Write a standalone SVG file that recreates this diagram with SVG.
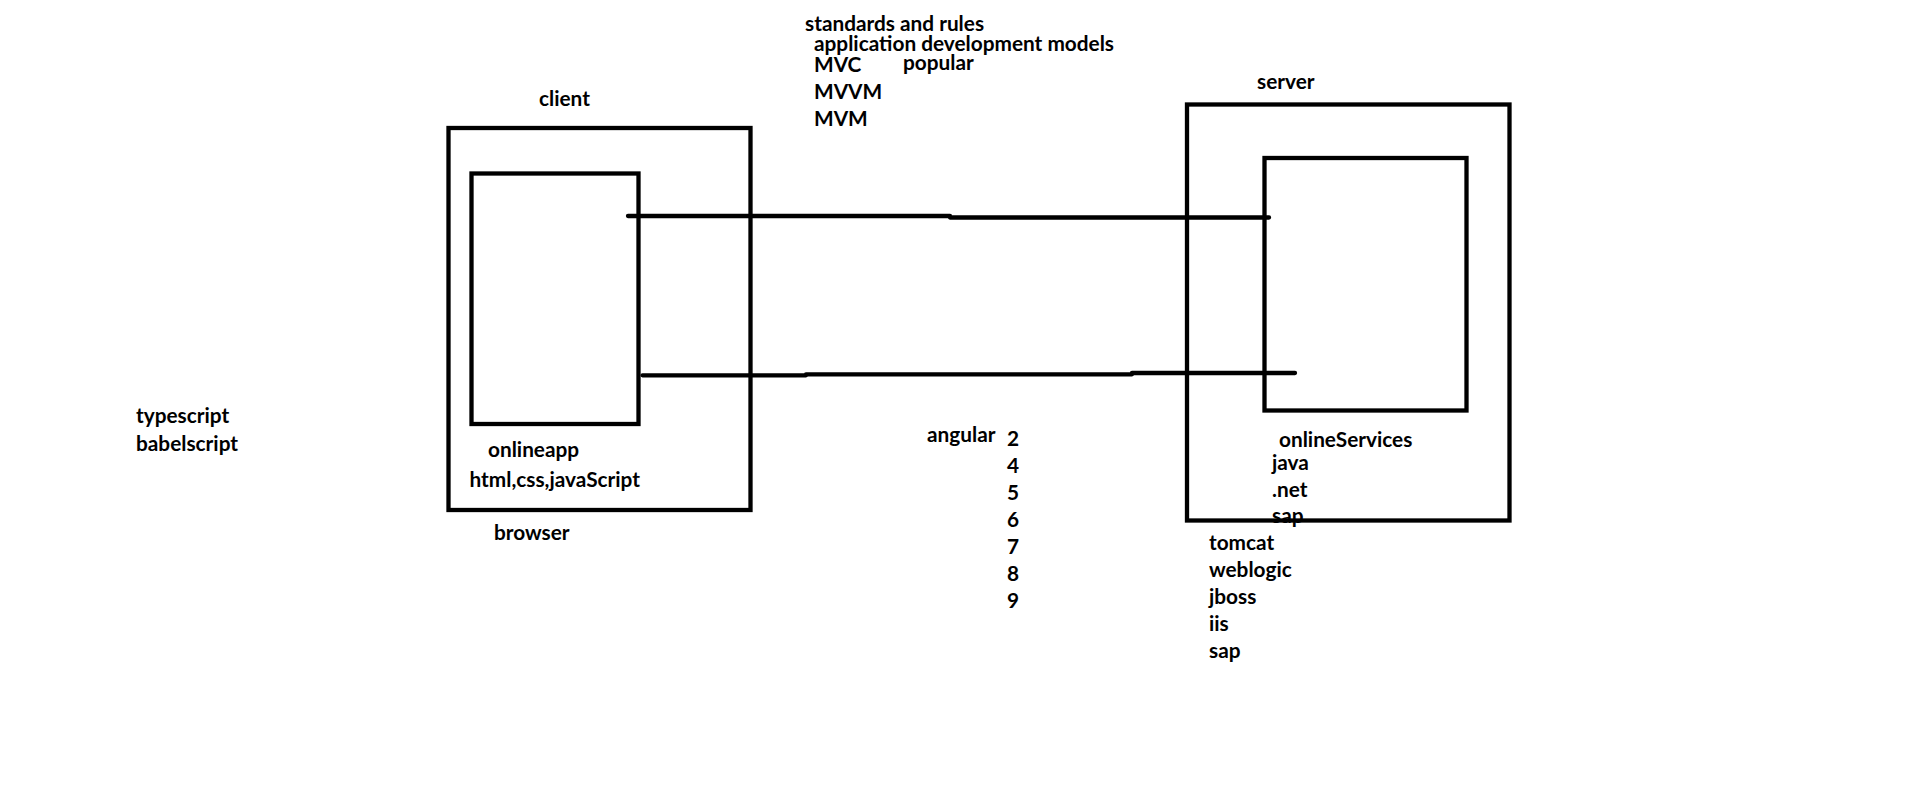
<svg xmlns="http://www.w3.org/2000/svg" width="1914" height="799" viewBox="0 0 1914 799">
<style>
text{font-family:Lato,"Open Sans","Liberation Sans",sans-serif;font-weight:700;font-size:20.8px;fill:#000}
.box{fill:none;stroke:#000;stroke-width:4.3}
.conn{fill:none;stroke:#000;stroke-width:4.3;stroke-linecap:round}
</style>
<rect width="1914" height="799" fill="#fff"/>
<g id="notes">
<text x="805" y="30.5">standards and rules</text>
<text x="814" y="50.5">application development models</text>
<text x="814" y="71.5">MVC</text>
<text x="903" y="70">popular</text>
<text x="814" y="99">MVVM</text>
<text x="814" y="126">MVM</text>
<text x="136" y="423">typescript</text>
<text x="136" y="451">babelscript</text>
</g>
<g id="angular">
<text x="927" y="442">angular</text>
<text x="1007" y="446">2</text>
<text x="1007" y="473">4</text>
<text x="1007" y="500">5</text>
<text x="1007" y="527">6</text>
<text x="1007" y="554">7</text>
<text x="1007" y="581">8</text>
<text x="1007" y="608">9</text>
</g>
<g id="client">
<text x="539" y="106">client</text>
<rect class="box" x="448.5" y="128" width="302" height="382"/>
<text x="488" y="457">onlineapp</text>
<text x="469.5" y="487">html,css,javaScript</text>
<text x="494" y="540">browser</text>
</g>
<g id="onlineapp">
<rect class="box" x="471.5" y="173.5" width="167" height="250.5"/>
</g>
<g id="server">
<text x="1257" y="89">server</text>
<text x="1279" y="447">onlineServices</text>
<text x="1272" y="470">java</text>
<text x="1272" y="497">.net</text>
<text x="1272" y="523">sap</text>
<rect class="box" x="1187" y="104.5" width="322.5" height="416"/>
<text x="1209" y="550">tomcat</text>
<text x="1209" y="577">weblogic</text>
<text x="1209" y="604">jboss</text>
<text x="1209" y="631">iis</text>
<text x="1209" y="658">sap</text>
</g>
<g id="onlineServices">
<rect class="box" x="1264.5" y="158" width="202" height="252.5"/>
</g>
<g id="connectors">
<path class="conn" d="M628,216 L950,216 M950,217.5 L1269,217.5"/>
<path class="conn" d="M642.5,375.3 L806,375.3 M806,374.3 L1132,374.3 M1132,373 L1295,373"/>
</g>
</svg>
